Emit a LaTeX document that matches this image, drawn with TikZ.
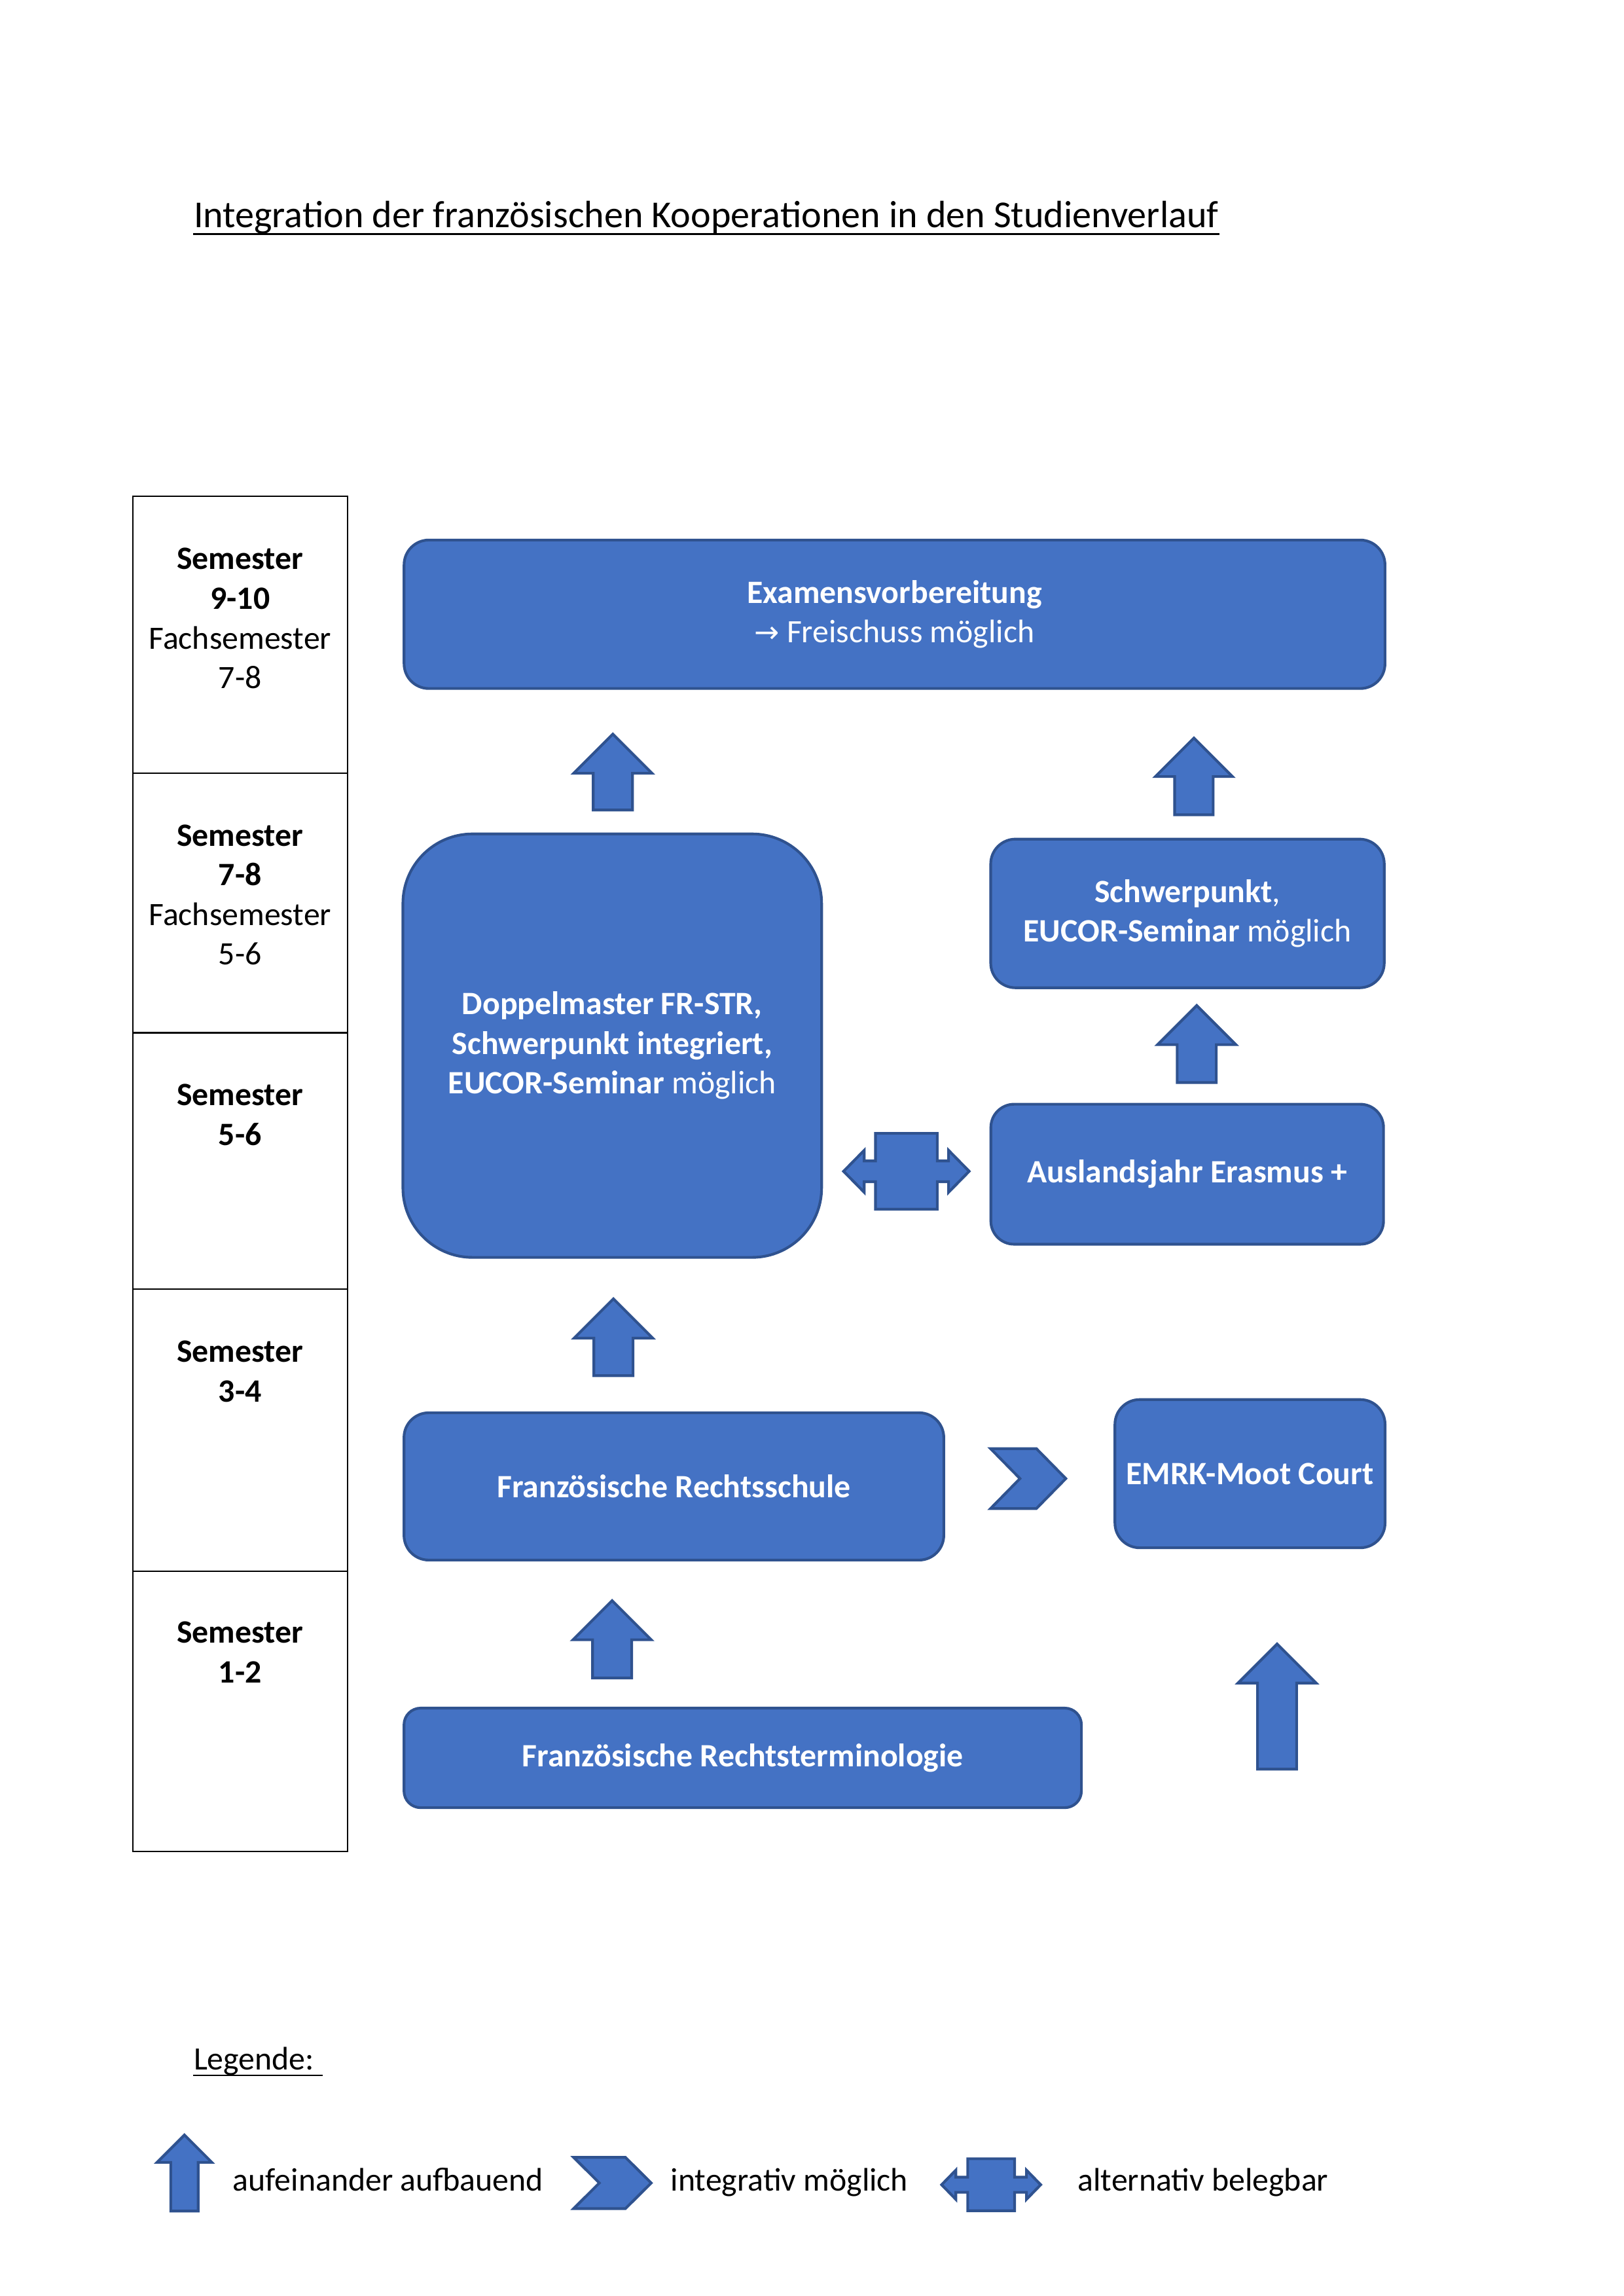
\documentclass[tikz,border=0pt]{standalone}
\usepackage{fontspec}
\setmainfont{Carlito}
\newfontfamily\arrowfont{DejaVu Sans}
\definecolor{boxblue}{RGB}{68,114,196}
\definecolor{boxline}{RGB}{47,82,143}
\newlength\pxu
\setlength\pxu{0.18936mm}

\begin{document}
\begin{tikzpicture}[x=\pxu,y=\pxu,yscale=-1,xscale=1,
  every node/.style={font=\fontsize{12}{14.6}\selectfont, inner sep=0pt},
  blockbox/.style={draw=boxline, fill=boxblue, line width=1pt, text=white, align=center},
  blockarrow/.style={draw=boxline, fill=boxblue, line width=1pt, line join=miter},
  semline/.style={draw=black, line width=0.6pt},
  semtext/.style={align=center},
  uline/.style={draw=black, line width=0.8pt}]
%page frame
\useasboundingbox (0,0) rectangle (1109,1568);

% Title
\node [anchor=base west, font=\fontsize{14}{17}\selectfont] (titel) at (132,155.5) {Integration der französischen Kooperationen in den Studienverlauf};
\draw [uline] ([yshift=4.2\pxu]titel.base west) -- ([yshift=4.2\pxu]titel.base east);

%Shape: Table [id:semester]
\draw [semline] (90.8,338.8) rectangle (237.5,1264.4);
\foreach \y in {528.1,705.3,880.4,1073.1}
  \draw [semline] (90.8,\y) -- (237.5,\y);

% Text Node
\node [semtext] (sem910) at (164,422.4) {\textbf{Semester}\\\textbf{9-10}\\Fachsemester\\7-8};
% Text Node
\node [semtext] (sem78) at (164,611.1) {\textbf{Semester}\\\textbf{7-8}\\Fachsemester\\5-6};
% Text Node
\node [semtext] (sem56) at (164,761.3) {\textbf{Semester}\\\textbf{5-6}};
% Text Node
\node [semtext] (sem34) at (164,936.5) {\textbf{Semester}\\\textbf{3-4}};
% Text Node
\node [semtext] (sem12) at (164,1128.3) {\textbf{Semester}\\\textbf{1-2}};

%Shape: Rounded Rect [id:exam]
\node [blockbox, rounded corners=3.2mm, minimum width=670\pxu, minimum height=101.4\pxu] (exam) at (611,419.5)
  {\textbf{Examensvorbereitung}\\{\arrowfont\fontsize{11}{14.6}\selectfont →} Freischuss möglich};
%Shape: Rounded Rect [id:doppel]
\node [blockbox, rounded corners=9mm, minimum width=286\pxu, minimum height=289.2\pxu] (doppel) at (418.2,714.1)
  {\textbf{Doppelmaster FR-STR,}\\\textbf{Schwerpunkt integriert,}\\\textbf{EUCOR-Seminar} möglich};
%Shape: Rounded Rect [id:schwer]
\node [blockbox, rounded corners=3.2mm, minimum width=268.8\pxu, minimum height=101.5\pxu] (schwer) at (811.1,623.8)
  {\textbf{Schwerpunkt},\\\textbf{EUCOR-Seminar} möglich};
%Shape: Rounded Rect [id:erasmus]
\node [blockbox, rounded corners=3mm, minimum width=268.2\pxu, minimum height=95.6\pxu] (erasmus) at (810.9,801.9)
  {\textbf{Auslandsjahr Erasmus +}};
%Shape: Rounded Rect [id:rschule]
\node [blockbox, rounded corners=3.2mm, minimum width=368.7\pxu, minimum height=100.6\pxu] (rschule) at (460.3,1015.1)
  {\textbf{Französische Rechtsschule}};
%Shape: Rounded Rect [id:moot]
\node [blockbox, rounded corners=3.2mm, minimum width=184.5\pxu, minimum height=101.2\pxu] (moot) at (853.8,1006.4)
  {\textbf{EMRK-Moot Court}};
%Shape: Rounded Rect [id:term]
\node [blockbox, rounded corners=2.15mm, minimum width=462.7\pxu, minimum height=68\pxu] (term) at (507.3,1200.5)
  {\textbf{Französische Rechtsterminologie}};

%Shape: Up Arrows (centre x / tip / base / half width)
\foreach \cx/\tp/\bs/\hw in {418.6/501.3/553.2/26.8, 815.5/504/556.4/26.3, 817.4/686.7/739.3/26.7,
    419/887/939.5/26.8, 418.1/1093.1/1145.9/26.7, 872.3/1122.7/1208.2/26.7, 126/1458/1510/18.7}
  \draw [blockarrow] (\cx,\tp) -- (\cx+\hw,\tp+\hw) -- (\cx+0.5*\hw,\tp+\hw) -- (\cx+0.5*\hw,\bs)
    -- (\cx-0.5*\hw,\bs) -- (\cx-0.5*\hw,\tp+\hw) -- (\cx-\hw,\tp+\hw) -- cycle;

%Shape: Chevrons
\foreach \l/\t/\w/\h/\d in {676.6/989.3/51.4/40.9/20.1, 391.8/1473.3/53/35/17.6}
  \draw [blockarrow] (\l,\t) -- (\l+\w-\d,\t) -- (\l+\w,\t+0.5*\h) -- (\l+\w-\d,\t+\h)
    -- (\l,\t+\h) -- (\l+\d,\t+0.5*\h) -- cycle;

%Shape: Left-Right Arrow Callouts
\foreach \cx/\cy/\bw/\bh/\tw/\hb/\hh/\sh in {619.1/799.9/21.1/25.9/42.9/28.8/14.35/7.1,
    677/1492/16/17.75/33.85/24.1/10/5.15}
  \draw [blockarrow] (\cx-\bw,\cy-\bh) -- (\cx+\bw,\cy-\bh) -- (\cx+\bw,\cy-\sh) -- (\cx+\hb,\cy-\sh)
    -- (\cx+\hb,\cy-\hh) -- (\cx+\tw,\cy) -- (\cx+\hb,\cy+\hh) -- (\cx+\hb,\cy+\sh)
    -- (\cx+\bw,\cy+\sh) -- (\cx+\bw,\cy+\bh) -- (\cx-\bw,\cy+\bh) -- (\cx-\bw,\cy+\sh)
    -- (\cx-\hb,\cy+\sh) -- (\cx-\hb,\cy+\hh) -- (\cx-\tw,\cy) -- (\cx-\hb,\cy-\hh)
    -- (\cx-\hb,\cy-\sh) -- (\cx-\bw,\cy-\sh) -- cycle;

% Legend
\node [anchor=base west] (legende) at (132,1413.5) {Legende:\kern0.25em};
\draw [uline, line width=0.7pt] ([yshift=3.8\pxu]legende.base west) -- ([yshift=3.8\pxu]legende.base east);
% Text Node
\node [anchor=base west] (legauf) at (158.7,1496) {aufeinander aufbauend};
% Text Node
\node [anchor=base west] (legint) at (457.8,1496) {integrativ möglich};
% Text Node
\node [anchor=base west] (legalt) at (735.8,1496) {alternativ belegbar};

\end{tikzpicture}
\end{document}
